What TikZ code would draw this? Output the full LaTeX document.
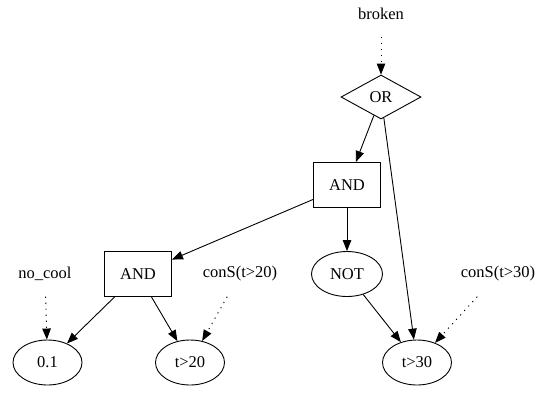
\documentclass[tikz,border=0pt]{standalone}
\usepackage{fontspec}
\setmainfont{Liberation Serif}
\usetikzlibrary{shapes.geometric,arrows.meta}
\begin{document}
\begin{tikzpicture}[x=1pt,y=-1pt,
  every node/.style={font=\fontsize{16.5}{19}\selectfont, inner sep=0pt},
  gbox/.style={draw, line width=0.9pt, rectangle, minimum width=67pt, minimum height=45pt},
  gell/.style={draw, line width=0.9pt, ellipse, minimum width=69pt, minimum height=45pt},
  gdia/.style={draw, line width=0.9pt, diamond, aspect=1.82, minimum width=80pt, minimum height=44pt},
  glab/.style={draw=none, rectangle, minimum width=67pt, minimum height=45pt},
  garr/.style={line width=0.9pt, -{Triangle[length=11pt,width=8.5pt]}},
  gdot/.style={garr, dash pattern=on 1.2pt off 4.8pt}
]
\useasboundingbox (0,0) rectangle (549,392);
\node[glab] (broken) at (381,14) {broken};
\node[gdia] (or) at (381,97) {OR};
\node[gbox] (and1) at (347,185) {AND};
\node[gbox] (and2) at (138,274) {AND};
\node[gell, minimum width=71pt] (not) at (347,274) {NOT};
\node[glab] (nocool) at (45,274) {no\_cool};
\node[glab, minimum width=78pt] (cons20) at (240,274) {conS(t>20)};
\node[glab, minimum width=78pt] (cons30) at (498,274) {conS(t>30)};
\node[gell] (p01) at (47.5,362.5) {0.1};
\node[gell] (t20) at (190,362.5) {t>20};
\node[gell] (t30) at (417,362.5) {t>30};

\draw[gdot] (broken) -- (or);
\draw[garr] (or) -- (and1);
\draw[garr] (or) -- (t30);
\draw[garr] (and1) -- (and2);
\draw[garr] (and1) -- (not);
\draw[garr] (and2) -- (p01);
\draw[garr] (and2) -- (t20);
\draw[gdot] (nocool) -- (p01);
\draw[gdot] (cons20) -- (t20);
\draw[garr] (not) -- (t30);
\draw[gdot] (cons30) -- (t30);
\end{tikzpicture}
\end{document}
